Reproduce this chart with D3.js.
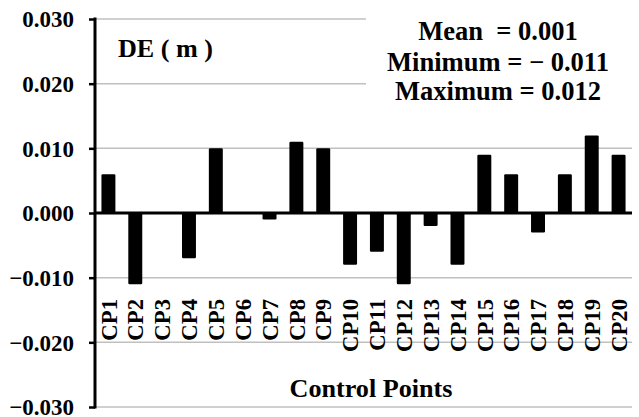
<!DOCTYPE html>
<html><head><meta charset="utf-8">
<script src="https://cdn.jsdelivr.net/npm/d3@7"></script>
<style>body{margin:0;background:#fff}svg{display:block}</style>
</head><body>
<svg id="c" width="639" height="417"></svg>
<script>
const categories = ["CP1","CP2","CP3","CP4","CP5","CP6","CP7","CP8","CP9","CP10","CP11","CP12","CP13","CP14","CP15","CP16","CP17","CP18","CP19","CP20"];
const values = [0.006,-0.011,0,-0.007,0.010,0,-0.001,0.011,0.010,-0.008,-0.006,-0.011,-0.002,-0.008,0.009,0.006,-0.003,0.006,0.012,0.009];
const yTicks = [-0.03,-0.02,-0.01,0,0.01,0.02,0.03];
const statLines = ["Mean  = 0.001","Minimum = \u2212 0.011","Maximum = 0.012"];
const unitLabel = "DE ( m )";
const xTitle = "Control Points";

const FONT = "'Liberation Serif', 'Times New Roman', Tinos, 'DejaVu Serif', serif";
const svg = d3.select("#c");
const x = d3.scaleBand().domain(categories).range([95,632]).paddingInner(0.48).paddingOuter(0.24);
const y = d3.scaleLinear().domain([-0.03,0.03]).range([407,19]);

function styleText(sel, size){
  return sel.style("font-family", FONT).style("font-weight","bold").style("font-size", size+"px").attr("fill","#000");
}
// scale font size of a selection so that the reference node reaches target width
function fit(sel, refNode, target, base){
  const w = refNode.getComputedTextLength();
  const s = base * target / w;
  sel.style("font-size", s+"px");
  return s;
}

// gridlines
svg.append("g").selectAll("line").data(yTicks).join("line")
  .attr("x1",95).attr("x2",632).attr("y1",d=>y(d)).attr("y2",d=>y(d))
  .attr("stroke","#c0c0c0").attr("stroke-width",1.5);

// white box behind stats
svg.append("rect").attr("x",366).attr("y",0).attr("width",273).attr("height",108).attr("fill","#fff");

// bars
svg.append("g").selectAll("rect").data(values).join("rect")
  .attr("x",(d,i)=>x(categories[i])).attr("width",x.bandwidth())
  .attr("y",d=>y(Math.max(0,d))).attr("height",d=>Math.abs(y(d)-y(0)))
  .attr("rx",1.2).attr("fill","#000");

// zero line
svg.append("line").attr("x1",95).attr("x2",632).attr("y1",y(0)).attr("y2",y(0)).attr("stroke","#000").attr("stroke-width",3);

// y axis
const ax = d3.axisLeft(y).tickValues(yTicks).tickFormat(d3.format(".3f")).tickSize(6).tickPadding(15);
const g = svg.append("g").attr("transform","translate(95,0)").call(ax).attr("font-family",null).attr("font-size",null);
g.select(".domain").attr("stroke","#000").attr("stroke-width",3).attr("d","M0,17.5V408.5");
g.selectAll(".tick line").attr("stroke","#000").attr("stroke-width",2.5);
const tt = styleText(g.selectAll(".tick text"), 20).attr("dy","0.34em");
fit(tt, tt.filter(d=>d===0.03).node(), 51.7, 20);

// category labels
const cl = styleText(svg.append("g").selectAll("text").data(categories).join("text"), 20)
  .attr("text-anchor","end").text(d=>d);
fit(cl, cl.filter(d=>d==="CP10").node(), 53, 20);
cl.attr("transform",d=>`translate(${x(d)+x.bandwidth()/2},299) rotate(-90)`).attr("dy","0.36em");

// unit label
const ul = styleText(svg.append("text"), 24).attr("x",118).attr("y",57).text(unitLabel);
fit(ul, ul.node(), 95, 24);

// stats
const st = styleText(svg.append("g").selectAll("text").data(statLines).join("text"), 24)
  .attr("x",498).attr("y",(d,i)=>[40,70.5,99.5][i]).attr("text-anchor","middle")
  .style("white-space","pre").text(d=>d);
fit(st, st.filter((d,i)=>i===1).node(), 222, 24);

// x title
const xt = styleText(svg.append("text"), 24).attr("x",371).attr("y",397).attr("text-anchor","middle").text(xTitle);
fit(xt, xt.node(), 163, 24);
</script>
</body></html>
